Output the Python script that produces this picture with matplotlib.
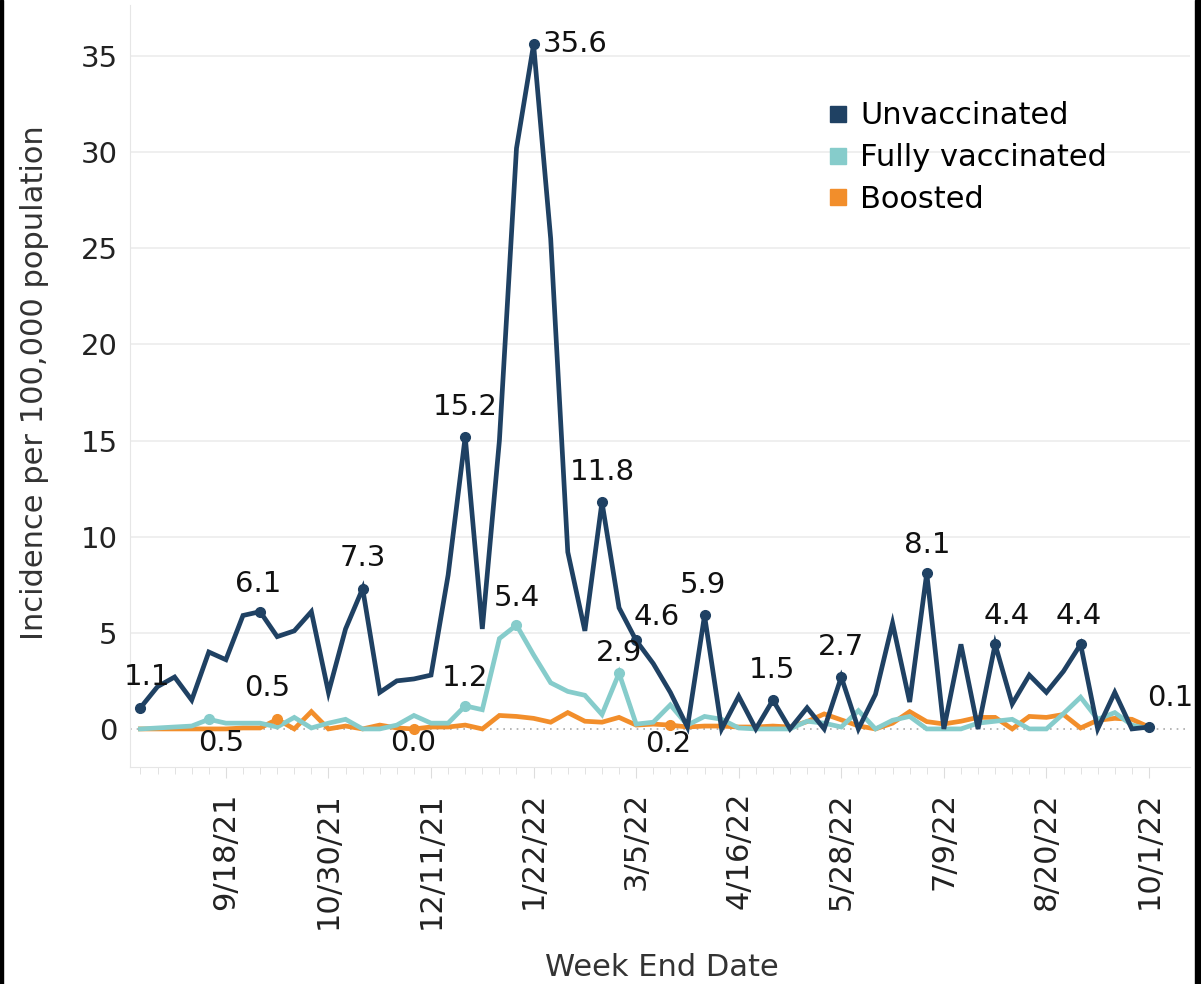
import matplotlib
matplotlib.use("Agg")
import matplotlib.pyplot as plt
import matplotlib.dates as mdates
from matplotlib.lines import Line2D
from matplotlib.patches import Rectangle
import pandas as pd

# weekly data, week end dates 8/14/21 .. 10/1/22
weeks = pd.date_range("2021-08-14", periods=60, freq="7D")

unvaccinated = [1.1, 2.2, 2.7, 1.5, 4.0, 3.6, 5.9, 6.1, 4.8, 5.1,
                6.1, 1.9, 5.2, 7.3, 1.9, 2.5, 2.6, 2.8, 8.0, 15.2,
                5.2, 15.0, 30.2, 35.6, 25.5, 9.2, 5.1, 11.8, 6.3, 4.6,
                3.4, 1.9, 0.1, 5.9, 0.0, 1.7, 0.0, 1.5, 0.0, 1.1,
                0.0, 2.7, 0.0, 1.8, 5.5, 1.4, 8.1, 0.0, 4.4, 0.0,
                4.4, 1.3, 2.8, 1.9, 3.0, 4.4, 0.0, 1.9, 0.0, 0.1]

fully_vaccinated = [0.0, 0.05, 0.1, 0.15, 0.5, 0.3, 0.3, 0.3, 0.1, 0.6,
                    0.05, 0.3, 0.5, 0.0, 0.0, 0.2, 0.7, 0.3, 0.3, 1.2,
                    1.0, 4.7, 5.4, 3.85, 2.4, 1.95, 1.75, 0.75, 2.9, 0.25,
                    0.35, 1.25, 0.2, 0.65, 0.5, 0.05, 0.0, 0.0, 0.0, 0.4,
                    0.3, 0.1, 0.95, 0.0, 0.45, 0.65, 0.0, 0.0, 0.0, 0.3,
                    0.4, 0.5, 0.0, 0.0, 0.8, 1.65, 0.5, 0.85, 0.2, 0.0]

boosted = [0.0, 0.0, 0.0, 0.0, 0.0, 0.0, 0.05, 0.05, 0.5, 0.0,
           0.9, 0.0, 0.15, 0.0, 0.2, 0.05, 0.0, 0.1, 0.1, 0.2,
           0.0, 0.7, 0.65, 0.55, 0.35, 0.85, 0.4, 0.35, 0.6, 0.2,
           0.25, 0.2, 0.1, 0.15, 0.15, 0.1, 0.1, 0.15, 0.1, 0.38,
           0.78, 0.47, 0.16, 0.0, 0.3, 0.9, 0.38, 0.26, 0.4, 0.6,
           0.6, 0.0, 0.65, 0.6, 0.75, 0.05, 0.45, 0.55, 0.5, 0.1]

# labelled points: index -> (dx, dy) offset in pixels
unvax_labels = {0: (7, 31), 7: (-2, 28), 13: (0, 31), 19: (0, 30), 23: (9, 0),
                27: (0, 30), 29: (21, 23), 33: (-2, 30), 37: (-1, 30), 41: (0, 30),
                46: (0, 28), 50: (12, 28), 55: (-2, 28), 59: (21, 29)}
fully_labels = {4: (12, -24), 19: (0, 28), 22: (0, 27), 28: (0, 20)}
boost_labels = {8: (-10, 31), 16: (-1, -14), 31: (-2, -19)}

c_unvax = "#1f4163"
c_fully = "#86cccb"
c_boost = "#f28e2b"

fig = plt.figure(figsize=(12.01, 9.84), dpi=100)
ax = fig.add_axes([130 / 1201, 1 - 767 / 984, 1060 / 1201, 762 / 984])

x = mdates.date2num(weeks)
wk = 7.0
ax.set_xlim(x[0] - 0.61 * wk, x[0] + 61.4 * wk)
ax.set_ylim(-1.98, 37.65)

yticks = [0, 5, 10, 15, 20, 25, 30, 35]
for yv in yticks[1:]:
    ax.axhline(yv, color="#ececec", lw=1.2, zorder=0)
ax.axhline(0, color="#aaaaaa", lw=1.2, ls=(0, (1, 3)), zorder=0)

series = [(boosted, c_boost, boost_labels),
          (fully_vaccinated, c_fully, fully_labels),
          (unvaccinated, c_unvax, unvax_labels)]
for vals, col, labels in series:
    ax.plot(x, vals, color=col, lw=3.4, solid_joinstyle="miter", zorder=3)
    for i, (dx, dy) in labels.items():
        ax.plot(x[i], vals[i], "o", color=col, ms=7, zorder=4)
        ha = "left" if (vals is unvaccinated and i == 23) else "center"
        ax.annotate(f"{vals[i]:.1f}", (x[i], vals[i]), xytext=(dx, dy),
                    textcoords="offset pixels", ha=ha, va="center",
                    fontsize=21, color="#111111", zorder=5)

ax.set_yticks(yticks)
ax.set_yticklabels([str(v) for v in yticks], fontsize=21, color="#222222")
ax.tick_params(axis="y", length=0, pad=9)

ax.set_xticks(x[5::6])
ax.set_xticks(x, minor=True)
ax.xaxis.set_major_formatter(plt.FuncFormatter(
    lambda v, p: (lambda d: f"{d.month}/{d.day}/{d:%y}")(mdates.num2date(v))))
ax.tick_params(axis="x", which="major", length=8, color="#dddddd", pad=10,
               labelsize=22, labelrotation=90, labelcolor="#222222")
ax.tick_params(axis="x", which="minor", length=5, color="#dddddd")

for s in ["top", "right"]:
    ax.spines[s].set_visible(False)
ax.spines["left"].set_color("#e6e6e6")
ax.spines["bottom"].set_color("#e6e6e6")

fig.text(35 / 1201, 1 - 383 / 984, "Incidence per 100,000 population",
         rotation=90, ha="center", va="center", fontsize=22, color="#333333")
fig.text(662 / 1201, 1 - 968 / 984, "Week End Date",
         ha="center", va="center", fontsize=22, color="#333333")

handles = [Line2D([], [], marker="s", ls="none", ms=12, color=c)
           for c in [c_unvax, c_fully, c_boost]]
ax.legend(handles, ["Unvaccinated", "Fully vaccinated", "Boosted"],
          loc="upper left", bbox_to_anchor=(807 / 1201, 1 - 80 / 984),
          bbox_transform=fig.transFigure, frameon=False, fontsize=22,
          handlelength=0.6, handletextpad=0.45, labelspacing=0.42,
          borderpad=0.2)

# black frame on the sides
fig.patches.append(Rectangle((0, 0), 3 / 1201, 1, transform=fig.transFigure,
                             color="black", zorder=10))
fig.patches.append(Rectangle((1 - 6 / 1201, 0), 6 / 1201, 1,
                             transform=fig.transFigure, color="black", zorder=10))

fig.savefig("out.png", dpi=100)
